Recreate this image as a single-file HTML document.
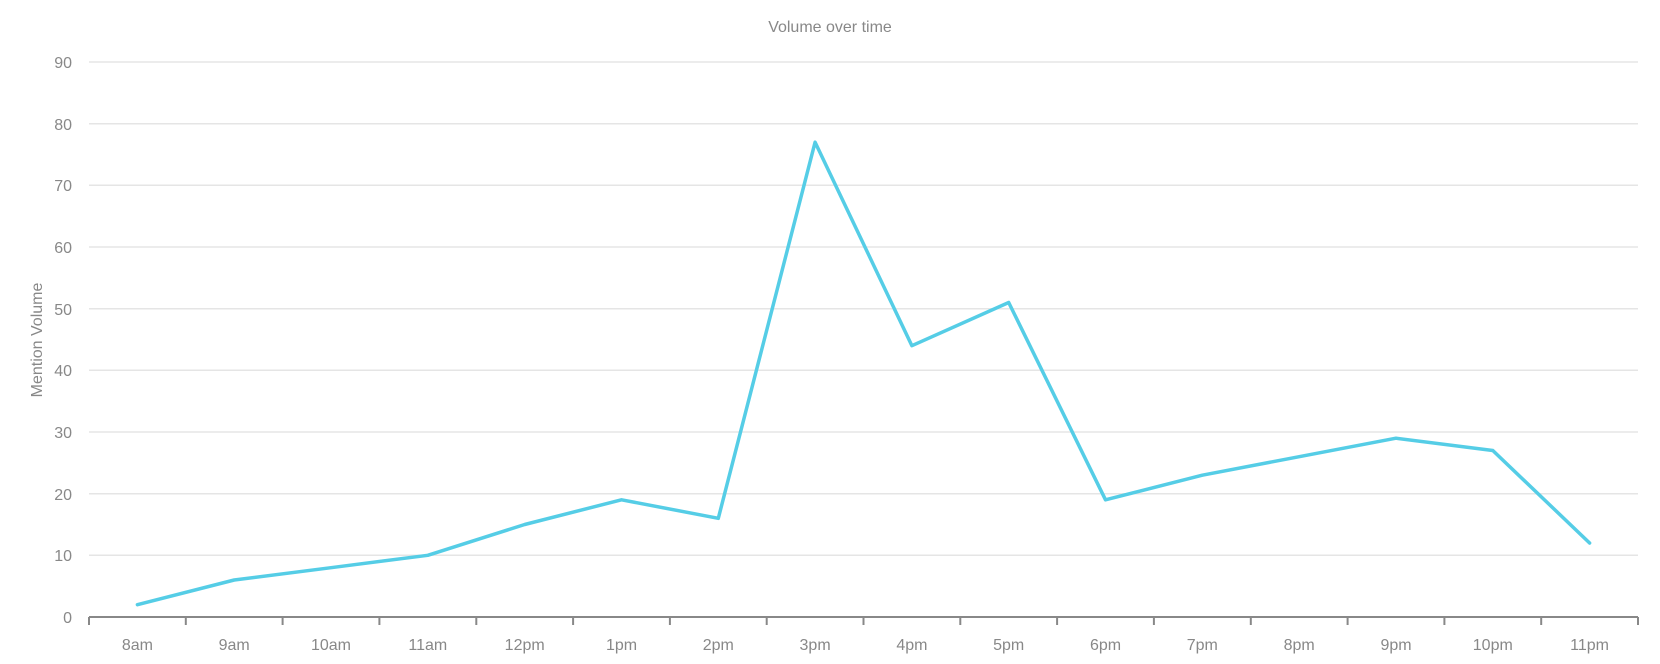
<!DOCTYPE html>
<html><head><meta charset="utf-8"><style>
html,body{margin:0;padding:0;background:#fff}
svg{display:block}
text{font-family:"Liberation Sans",sans-serif;fill:#888}
</style></head><body>
<svg width="1660" height="664" viewBox="0 0 1660 664">
<text x="830" y="32" text-anchor="middle" font-size="16">Volume over time</text>
<g stroke="#e5e5e5" stroke-width="1.5">
<line x1="89" x2="1638" y1="62" y2="62"/><line x1="89" x2="1638" y1="123.7" y2="123.7"/>
<line x1="89" x2="1638" y1="185.3" y2="185.3"/><line x1="89" x2="1638" y1="247" y2="247"/>
<line x1="89" x2="1638" y1="308.7" y2="308.7"/><line x1="89" x2="1638" y1="370.3" y2="370.3"/>
<line x1="89" x2="1638" y1="432" y2="432"/><line x1="89" x2="1638" y1="493.7" y2="493.7"/>
<line x1="89" x2="1638" y1="555.3" y2="555.3"/>
</g>
<g font-size="16" text-anchor="end">
<text x="72" y="68">90</text><text x="72" y="130">80</text><text x="72" y="191">70</text>
<text x="72" y="253">60</text><text x="72" y="315">50</text><text x="72" y="376">40</text>
<text x="72" y="438">30</text><text x="72" y="500">20</text><text x="72" y="561">10</text>
<text x="72" y="623">0</text>
</g>
<text transform="translate(42,340) rotate(-90)" text-anchor="middle" font-size="16">Mention Volume</text>
<g stroke="#888" stroke-width="2">
<line x1="89" x2="1638" y1="617" y2="617"/>
<line x1="89" x2="89" y1="617" y2="625"/><line x1="185.8" x2="185.8" y1="617" y2="625"/>
<line x1="282.6" x2="282.6" y1="617" y2="625"/><line x1="379.4" x2="379.4" y1="617" y2="625"/>
<line x1="476.3" x2="476.3" y1="617" y2="625"/><line x1="573.1" x2="573.1" y1="617" y2="625"/>
<line x1="669.9" x2="669.9" y1="617" y2="625"/><line x1="766.7" x2="766.7" y1="617" y2="625"/>
<line x1="863.5" x2="863.5" y1="617" y2="625"/><line x1="960.3" x2="960.3" y1="617" y2="625"/>
<line x1="1057.1" x2="1057.1" y1="617" y2="625"/><line x1="1153.9" x2="1153.9" y1="617" y2="625"/>
<line x1="1250.8" x2="1250.8" y1="617" y2="625"/><line x1="1347.6" x2="1347.6" y1="617" y2="625"/>
<line x1="1444.4" x2="1444.4" y1="617" y2="625"/><line x1="1541.2" x2="1541.2" y1="617" y2="625"/>
<line x1="1638" x2="1638" y1="617" y2="625"/>
</g>
<g font-size="16" text-anchor="middle">
<text x="137.4" y="650">8am</text><text x="234.2" y="650">9am</text><text x="331" y="650">10am</text>
<text x="427.8" y="650">11am</text><text x="524.7" y="650">12pm</text><text x="621.5" y="650">1pm</text>
<text x="718.3" y="650">2pm</text><text x="815.1" y="650">3pm</text><text x="911.9" y="650">4pm</text>
<text x="1008.7" y="650">5pm</text><text x="1105.5" y="650">6pm</text><text x="1202.3" y="650">7pm</text>
<text x="1299.2" y="650">8pm</text><text x="1396" y="650">9pm</text><text x="1492.8" y="650">10pm</text>
<text x="1589.6" y="650">11pm</text>
</g>
<polyline fill="none" stroke="#55cde6" stroke-width="3.5" stroke-linejoin="round" stroke-linecap="round"
points="137.4,604.7 234.2,580 331,567.7 427.8,555.3 524.7,524.5 621.5,499.8 718.3,518.3 815.1,142.2 911.9,345.7 1008.7,302.5 1105.5,499.8 1202.3,475.2 1299.2,456.7 1396,438.2 1492.8,450.5 1589.6,543"/>
</svg>
</body></html>
